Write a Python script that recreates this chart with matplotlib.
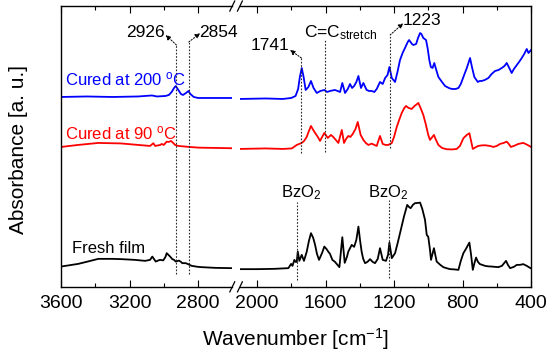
import matplotlib
matplotlib.use("Agg")
import matplotlib.pyplot as plt
import numpy as np

plt.rcParams['font.family'] = ['Liberation Sans', 'DejaVu Sans']
plt.rcParams['mathtext.fontset'] = 'custom'
plt.rcParams['mathtext.rm'] = 'Liberation Sans'
plt.rcParams['mathtext.it'] = 'Liberation Sans:italic'

# ---- data (absorbance in arbitrary units, spectra already offset) ----
# high wavenumber region (3600-2600)
wn_200_hi = [3600, 3450, 3300, 3150, 3069, 3040, 2990, 2970, 2954, 2940, 2930, 2915,
             2900, 2888, 2870, 2856, 2845, 2825, 2800, 2700, 2603]
ab_200_hi = [190, 190.5, 190, 190.5, 191.5, 190.5, 191, 192, 195, 199, 201, 197,
             193, 192, 194, 196, 193, 190, 189, 189, 189]

wn_90_hi = [3600, 3500, 3382, 3250, 3149, 3080, 3061, 3050, 3035, 3020, 3012, 3000,
            2983, 2970, 2958, 2945, 2934, 2915, 2895, 2850, 2798, 2700, 2603]
ab_90_hi = [140, 142, 144, 143.5, 142, 141, 143.7, 141, 141.5, 142, 143, 142,
            145.3, 145, 146, 144, 142, 141, 140.7, 140, 139.3, 139, 138.7]

wn_fresh_hi = [3600, 3499, 3440, 3382, 3300, 3245, 3170, 3109, 3080, 3067, 3047, 3030,
               3022, 3003, 2990, 2983, 2970, 2963, 2950, 2940, 2930, 2911, 2900, 2892,
               2872, 2855, 2837, 2800, 2779, 2700, 2603]
ab_fresh_hi = [20.3, 23, 25.5, 28, 28, 27.7, 27, 26, 27, 30.3, 25.3, 26.5,
               27, 26.5, 30, 33.7, 31.5, 30.3, 27.7, 27, 25.3, 26.3, 25, 23.7,
               23.7, 22.5, 21, 20, 19.7, 19, 18.7]

# fingerprint region (2100-400)
wn_200_lo = [2100, 1950, 1850, 1800, 1775, 1760, 1750, 1739, 1728, 1716, 1700, 1685,
             1670, 1651, 1630, 1607, 1590, 1574, 1545, 1515, 1502, 1486, 1470, 1457,
             1445, 1433, 1420, 1408, 1393, 1379, 1360, 1345, 1330, 1315, 1301, 1282,
             1266, 1252, 1238, 1227, 1213, 1194, 1180, 1165, 1150, 1136, 1120, 1112,
             1095, 1087, 1071, 1060, 1048, 1040, 1029, 1013, 1003, 994, 985, 975,
             965, 955, 941, 920, 902, 880, 863, 840, 824, 810, 795, 775,
             756, 745, 731, 711, 700, 688, 670, 649, 630, 610, 590, 571,
             555, 542, 530, 513, 500, 483, 470, 454, 440, 425, 415, 400]
ab_200_lo = [188, 188.5, 188, 189, 191, 198, 210, 219, 210, 197, 200, 206,
             199, 194, 196, 197, 195, 196, 197, 195, 204, 194, 198, 203,
             199, 201, 205, 211, 199, 204, 197, 196, 196, 195, 198, 205,
             203, 209, 212, 220, 209, 205, 215, 227, 234, 239, 245, 247,
             243, 242, 243, 249, 254, 253, 249, 247, 238, 227, 220, 219,
             224, 218, 210, 205, 201, 199, 198, 198, 199, 203, 210, 219,
             229, 220, 210, 205, 206, 206, 207, 209, 213, 216, 217, 219,
             221, 224, 220, 214, 218, 222, 225, 229, 233, 238, 234, 237]

wn_90_lo = [2100, 1950, 1850, 1797, 1768, 1739, 1725, 1710, 1697, 1685, 1672, 1661,
            1645, 1632, 1620, 1607, 1595, 1587, 1568, 1555, 1545, 1525, 1505, 1492,
            1480, 1467, 1455, 1441, 1425, 1412, 1395, 1379, 1365, 1350, 1330, 1315,
            1301, 1282, 1266, 1250, 1233, 1213, 1200, 1184, 1170, 1155, 1140, 1130,
            1115, 1097, 1080, 1058, 1045, 1029, 1015, 1000, 990, 967, 955, 941,
            920, 893, 860, 834, 815, 795, 775, 760, 750, 740, 720, 708,
            690, 669, 640, 620, 600, 581, 560, 542, 530, 518, 500, 474,
            460, 445, 420, 400]
ab_90_lo = [138, 138.5, 138, 138.5, 142, 144, 146, 150, 156, 161, 157, 154,
            150, 146, 150, 154, 151, 149, 152, 150, 148, 144, 157, 144,
            148, 151, 150, 153, 158, 165, 152, 147, 144, 142, 143.3, 142,
            141, 151, 143, 142, 142, 144, 150, 160, 167, 174, 179, 181,
            179, 178, 181, 184, 179, 172, 163, 152, 147, 152, 147, 142,
            139, 137.7, 137.5, 138, 141, 148.7, 152, 153.7, 146, 138, 140, 141,
            141.5, 141.7, 141, 140, 141, 143, 144, 145.3, 143, 140, 141, 143,
            143.5, 144, 142, 140]

wn_fresh_lo = [2100, 2000, 1900, 1817, 1801, 1793, 1782, 1775, 1768, 1762, 1753, 1739,
               1726, 1710, 1697, 1685, 1672, 1661, 1650, 1638, 1620, 1607, 1595, 1583,
               1574, 1560, 1545, 1519, 1502, 1488, 1475, 1467, 1447, 1433, 1420, 1408,
               1398, 1389, 1380, 1369, 1355, 1340, 1325, 1311, 1295, 1282, 1266, 1247,
               1235, 1227, 1213, 1194, 1180, 1165, 1142, 1123, 1113, 1103, 1090, 1078,
               1060, 1048, 1035, 1019, 1009, 1000, 990, 984, 967, 951, 930, 912,
               890, 873, 850, 824, 810, 795, 780, 760, 750, 740, 730, 721,
               710, 698, 685, 669, 650, 630, 610, 591, 570, 546, 535, 522,
               500, 483, 465, 445, 425, 406, 400]
ab_fresh_lo = [17.7, 17.7, 18, 18.7, 23, 21, 27, 25, 25, 35.3, 26, 32,
               26, 35, 46, 53.7, 49, 42, 33, 27, 34, 40.3, 38, 35,
               33, 27, 25, 19.7, 49.7, 24, 30, 35.3, 42, 40, 47, 60.3,
               46, 35, 28, 23.7, 25, 27.7, 25, 23.7, 28, 38.7, 27, 26,
               32, 44.3, 28.7, 33.7, 43, 53.7, 70.3, 82, 80, 78.7, 82, 83.7,
               84, 84.3, 78, 67, 52, 50, 37, 27, 38.7, 25.3, 22, 19.7,
               18.5, 17.7, 17.5, 17, 26, 33.7, 38, 44.3, 32, 17, 24, 29.3,
               25, 22.7, 22, 21, 20.5, 20.3, 20, 19.7, 21, 26, 22, 18.7,
               20, 22, 22, 22.7, 21, 19, 18.5]

# ---- figure ----
fig = plt.figure(figsize=(5.5, 3.55), dpi=100)
ax1 = fig.add_axes([0.111, 0.192, 0.3113, 0.791])
ax2 = fig.add_axes([0.4362, 0.192, 0.5293, 0.791])

lw = 1.3
for ax, suffix in ((ax1, 'hi'), (ax2, 'lo')):
    d = globals()
    ax.plot(d['wn_200_' + suffix], d['ab_200_' + suffix], color='#0000ff', lw=lw)
    ax.plot(d['wn_90_' + suffix], d['ab_90_' + suffix], color='#ff0000', lw=lw)
    ax.plot(d['wn_fresh_' + suffix], d['ab_fresh_' + suffix], color='black', lw=lw)
    ax.set_ylim(0, 281)
    ax.set_yticks([])
    ax.tick_params(axis='x', which='both', direction='in', top=True, bottom=True,
                   labelsize=14, pad=6, width=0.8)
    ax.tick_params(axis='x', which='major', length=5)
    ax.tick_params(axis='x', which='minor', length=3)
    for s in ax.spines.values():
        s.set_linewidth(1.0)

ax1.set_xlim(3600, 2600)
ax1.set_xticks([3600, 3200, 2800])
ax1.set_xticks([3400, 3000], minor=True)
ax1.spines['right'].set_visible(False)

ax2.set_xlim(2100, 400)
ax2.set_xticks([2000, 1600, 1200, 800, 400])
ax2.set_xticks([1800, 1400, 1000, 600], minor=True)
ax2.spines['left'].set_visible(False)

# break marks
d = 0.012
kw = dict(color='k', lw=0.9, clip_on=False)
for yb in (0, 1):
    ax1.plot([1 - d * 1.2, 1 + d * 1.2], [yb - d * 1.5, yb + d * 1.5], transform=ax1.transAxes, **kw)
    ax2.plot([-d * 0.7, d * 0.7], [yb - d * 1.5, yb + d * 1.5], transform=ax2.transAxes, **kw)

# series labels
ax1.text(3577, 208, 'Cured at 200 $^{\\rm o}$C', color='#0000ff', fontsize=12, va='center')
ax1.text(3577, 153.7, 'Cured at 90 $^{\\rm o}$C', color='#ff0000', fontsize=12, va='center')
ax1.text(3537, 38.7, 'Fresh film', color='black', fontsize=12, va='center')

# peak markers
fs = 12.5
dot = dict(color='0.15', ls=(0, (1.5, 1.5)), lw=0.8)
arr = dict(arrowstyle='-|>', color='k', lw=0.7, ls=(0, (1.5, 1.5)), mutation_scale=7,
           shrinkA=0, shrinkB=0)

ax1.plot([2926, 2926], [13, 242], **dot)
ax1.plot([2854, 2854], [13, 245], **dot)
ax1.annotate('', xy=(2989, 252), xytext=(2926, 242), arrowprops=arr)
ax1.annotate('', xy=(2788, 253.7), xytext=(2854, 245), arrowprops=arr)
ax1.text(3109, 255, '2926', fontsize=fs, ha='center', va='center')
ax1.text(2680, 255, '2854', fontsize=fs, ha='center', va='center')

ax2.plot([1741, 1741], [134, 229], **dot)
ax2.annotate('', xy=(1807, 237), xytext=(1741, 229), arrowprops=arr)
ax2.text(1924, 242, '1741', fontsize=fs, ha='center', va='center')

ax2.plot([1603, 1603], [135, 247], **dot)
ax2.text(1515, 254, 'C=C$_{\\rm stretch}$', fontsize=fs, ha='center', va='center')

ax2.plot([1223, 1223], [139, 252], **dot)
ax2.annotate('', xy=(1146, 263.7), xytext=(1223, 252), arrowprops=arr)
ax2.text(1035, 267, '1223', fontsize=fs, ha='center', va='center')

ax2.plot([1768, 1768], [7, 85], **dot)
ax2.text(1740, 94, 'BzO$_2$', fontsize=12, ha='center', va='center')
ax2.plot([1227, 1227], [9, 87], **dot)
ax2.text(1235, 94, 'BzO$_2$', fontsize=12, ha='center', va='center')

# axis labels
fig.text(0.538, 0.045, 'Wavenumber [cm$^{-1}$]', fontsize=15, ha='center', va='center')
fig.text(0.033, 0.58, 'Absorbance [a. u.]', fontsize=15, ha='center', va='center',
         rotation=90)

fig.savefig('out.png', dpi=100)
